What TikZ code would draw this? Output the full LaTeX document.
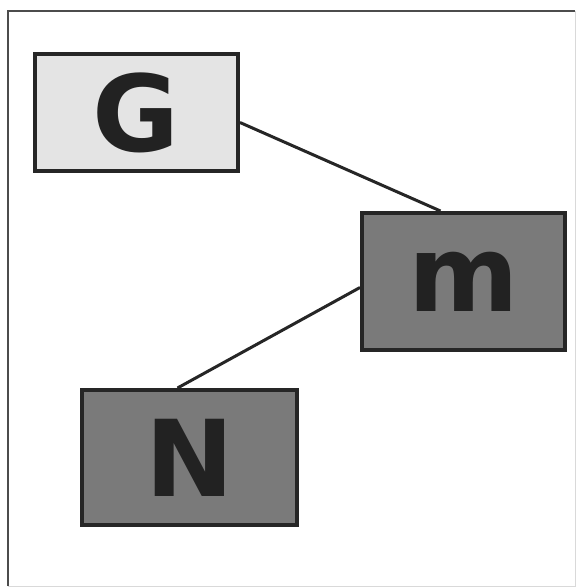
\documentclass[tikz,border=0pt]{standalone}
\usepackage{fontspec}
\setmainfont{DejaVu Sans}
\usetikzlibrary{backgrounds}
\definecolor{edgec}{HTML}{262626}
\definecolor{lightfill}{HTML}{E4E4E4}
\definecolor{darkfill}{HTML}{7A7A7A}
\definecolor{txt}{HTML}{222222}
\tikzset{
  box/.style={rectangle, draw=edgec, line width=4pt, inner sep=0pt,
    text=txt, font=\fontsize{106}{106}\selectfont\bfseries},
  link/.style={draw=edgec, line width=3pt}
}
\begin{document}
\begin{tikzpicture}[x=1pt,y=-1pt]
\useasboundingbox (0,0) rectangle (576,587);
\draw[line width=2.5pt, draw=black!70] (8,586) -- (8,11) -- (575,11);
\draw[line width=1pt, draw=black!15] (575,11) -- (575,586) -- (8,586);
\node[box, fill=lightfill, minimum width=203pt, minimum height=117pt] (G) at (136.5,112.5) {G};
\node[box, fill=darkfill, minimum width=203pt, minimum height=137pt] (m) at (463.5,281.5) {m};
\node[box, fill=darkfill, minimum width=215pt, minimum height=135pt] (N) at (189.5,457.5) {N};
\begin{scope}[on background layer]
\draw[link] ([yshift=-10pt]G.east) -- ([xshift=-23pt]m.north);
\draw[link] ([yshift=-6pt]m.west) -- ([xshift=-12pt]N.north);
\end{scope}
\end{tikzpicture}
\end{document}
